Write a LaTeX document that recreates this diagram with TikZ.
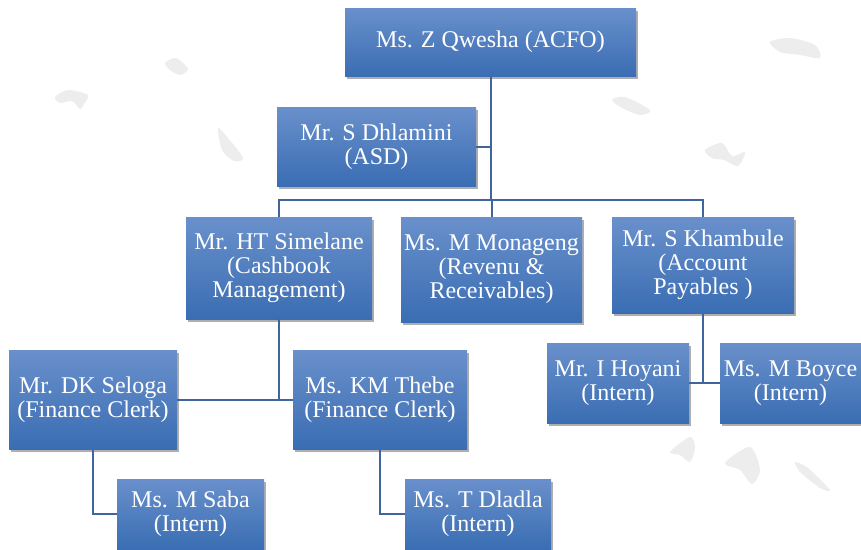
\documentclass[tikz,border=0pt]{standalone}
\usepackage{fontspec}
\setmainfont{Liberation Serif}
\usetikzlibrary{shadows}
\definecolor{boxtop}{HTML}{6990CB}
\definecolor{boxbot}{HTML}{3A6DB3}
\definecolor{conncol}{HTML}{3F659E}
\definecolor{blobcol}{HTML}{EDEDED}
\begin{document}
\begin{tikzpicture}[x=1pt,y=-1pt,
  box/.style={rectangle, top color=boxtop, bottom color=boxbot, text=white,
    align=center, inner sep=0pt, font=\fontsize{24}{24}\selectfont,
    drop shadow={shadow xshift=2pt, shadow yshift=-2.5pt, opacity=0.45, fill=black!70}},
  conn/.style={draw=conncol, line width=2pt},
  blob/.style={fill=blobcol}]
\useasboundingbox (0,0) rectangle (861,549);
\clip (0,0) rectangle (861,549);
% faint background texture
\fill[blob] plot[smooth cycle] coordinates {(55,97) (68,90) (88,95) (84,104) (80,109) (72,101) (60,103)};
\fill[blob] plot[smooth cycle] coordinates {(165,63) (176,58) (188,69) (180,75) (170,70)};
\fill[blob] plot[smooth cycle] coordinates {(218,128) (228,138) (243,158) (234,161) (222,150)};
\fill[blob] plot[smooth cycle] coordinates {(612,100) (625,97) (650,110) (640,115) (622,108)};
\fill[blob] plot[smooth cycle] coordinates {(705,150) (722,143) (732,156) (745,152) (738,166) (724,160) (712,158)};
\fill[blob] plot[smooth cycle] coordinates {(770,42) (790,38) (815,45) (820,58) (800,55) (780,52)};
\fill[blob] plot[smooth cycle] coordinates {(670,452) (690,437) (695,448) (690,462) (680,455)};
\fill[blob] plot[smooth cycle] coordinates {(725,463) (750,447) (760,470) (752,484) (740,470)};
\fill[blob] plot[smooth cycle] coordinates {(795,462) (808,468) (830,490) (820,488) (800,472)};
% boxes
\node[box, minimum width=291pt, minimum height=68pt] (qwesha) at (490.5,42) {Ms. Z Qwesha (ACFO)};
\node[box, minimum width=199pt, minimum height=79pt] (dhlamini) at (376.5,146.5) {Mr. S Dhlamini\\(ASD)};
\node[box, minimum width=186pt, minimum height=102pt] (simelane) at (279,268) {Mr. HT Simelane\\(Cashbook\\Management)};
\node[box, minimum width=181pt, minimum height=105pt] (monageng) at (491.5,269.5) {Ms. M Monageng\\(Revenu \&\\Receivables)};
\node[box, minimum width=182pt, minimum height=96pt] (khambule) at (703,265) {Mr. S Khambule\\(Account\\Payables )};
\node[box, minimum width=142pt, minimum height=80pt] (hoyani) at (618,383) {Mr. I Hoyani\\(Intern)};
\node[box, minimum width=141pt, minimum height=80pt] (boyce) at (790.5,383) {Ms. M Boyce\\(Intern)};
\node[box, minimum width=168pt, minimum height=99pt] (seloga) at (93,399.5) {Mr. DK Seloga\\(Finance Clerk)};
\node[box, minimum width=174pt, minimum height=99pt] (thebe) at (380,399.5) {Ms. KM Thebe\\(Finance Clerk)};
\node[box, minimum width=147pt, minimum height=70pt] (saba) at (190.5,514) {Ms. M Saba\\(Intern)};
\node[box, minimum width=146pt, minimum height=70pt] (dladla) at (478,514) {Ms. T Dladla\\(Intern)};
% connectors
\coordinate (hbar) at (490.5,200);
\draw[conn] (qwesha.south) -- (hbar);
\draw[conn] (simelane.north) |- (hbar) -| (khambule.north);
\draw[conn] (monageng.north) -- (monageng.north |- hbar);
\draw[conn] (dhlamini.east) -- (dhlamini.east -| hbar);
\draw[conn] (simelane.south) -- (simelane.south |- seloga.east);
\draw[conn] (seloga.east) -- (thebe.west);
\draw[conn] (seloga.south) |- (saba.west);
\draw[conn] (thebe.south) |- (dladla.west);
\draw[conn] (khambule.south) -- (khambule.south |- hoyani.east);
\draw[conn] (hoyani.east) -- (boyce.west);
\end{tikzpicture}
\end{document}
